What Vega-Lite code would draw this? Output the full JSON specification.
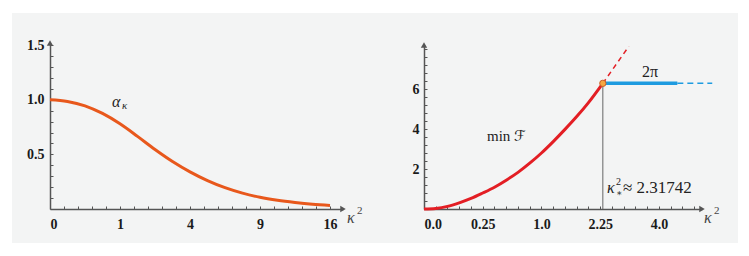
{
  "$schema": "https://vega.github.io/schema/vega-lite/v6.json",
  "background": "white",
  "padding": {"left": 12, "top": 13, "right": 11, "bottom": 13},
  "spacing": 0,
  "config": {
    "view": {"fill": "#f3f4f4", "stroke": null},
    "axis": {"grid": false, "domainColor": "#555555", "domainWidth": 1.5, "tickColor": "#555555", "tickWidth": 1, "tickSize": -3, "labelFont": "Liberation Serif", "labelFontWeight": "bold", "labelFontSize": 14, "labelColor": "#1a1a1a", "labelOverlap": false},
    "text": {"font": "Liberation Serif, DejaVu Serif, DejaVu Sans", "color": "#222222"}
  },
  "datasets": {
    "alpha": [
      {"k2": 0, "a": 1.0}, {"k2": 0.0625, "a": 0.985}, {"k2": 0.25, "a": 0.945}, {"k2": 0.5625, "a": 0.875},
      {"k2": 1, "a": 0.78}, {"k2": 1.5625, "a": 0.665}, {"k2": 2.25, "a": 0.545}, {"k2": 3.0625, "a": 0.435},
      {"k2": 4, "a": 0.34}, {"k2": 5.0625, "a": 0.26}, {"k2": 6.25, "a": 0.195}, {"k2": 7.5625, "a": 0.145},
      {"k2": 9, "a": 0.107}, {"k2": 10.5625, "a": 0.08}, {"k2": 12.25, "a": 0.06}, {"k2": 14.0625, "a": 0.044},
      {"k2": 16, "a": 0.033}
    ],
    "minF": [
      {"k2": 0, "F": 0}, {"k2": 0.01, "F": 0.03}, {"k2": 0.04, "F": 0.13}, {"k2": 0.09, "F": 0.31},
      {"k2": 0.16, "F": 0.53}, {"k2": 0.25, "F": 0.8}, {"k2": 0.36, "F": 1.09}, {"k2": 0.49, "F": 1.44},
      {"k2": 0.64, "F": 1.83}, {"k2": 0.81, "F": 2.29}, {"k2": 1.0, "F": 2.8}, {"k2": 1.21, "F": 3.37},
      {"k2": 1.44, "F": 3.98}, {"k2": 1.69, "F": 4.62}, {"k2": 1.96, "F": 5.32}, {"k2": 2.31742, "F": 6.28319}
    ],
    "minFext": [{"k2": 2.31742, "F": 6.28319}, {"k2": 3.04, "F": 8.13}],
    "twopi": [{"k2": 2.31742, "F": 6.28319}, {"k2": 4.65, "F": 6.28319}],
    "twopiext": [{"k2": 4.65, "F": 6.28319}, {"k2": 6.02, "F": 6.28319}],
    "crit": [{"k2": 2.31742, "F": 6.28319, "zero": 0}],
    "one": [{"n": 1}]
  },
  "hconcat": [
    {
      "width": 363,
      "height": 230,
      "layer": [
        {
          "data": {"name": "alpha"},
          "mark": {"type": "line", "color": "#e8581c", "strokeWidth": 3, "interpolate": "monotone"},
          "encoding": {
            "x": {"field": "k2", "type": "quantitative",
              "scale": {"type": "sqrt", "domain": [0, 17.52], "range": [38, 331], "nice": false, "zero": false},
              "axis": {"title": null, "orient": "bottom", "offset": -34, "labelPadding": 11, "labelOverlap": false, "tickCount": 200,
                "values": [0, 0.04, 0.16, 0.36, 0.64, 1, 1.44, 1.96, 2.56, 3.24, 4, 4.84, 5.76, 6.76, 7.84, 9, 10.24, 11.56, 12.96, 14.44, 16],
                "labelExpr": "(datum.value==0||datum.value==1||datum.value==4||datum.value==9||datum.value==16) ? format(datum.value,'d') : ''"}},
            "y": {"field": "a", "type": "quantitative",
              "scale": {"domain": [0, 1.52], "range": [196, 30], "nice": false, "zero": false},
              "axis": {"title": null, "orient": "left", "offset": -38, "labelPadding": 9, "labelOverlap": false, "tickCount": 200,
                "values": [0.1, 0.2, 0.3, 0.4, 0.5, 0.6, 0.7, 0.8, 0.9, 1, 1.1, 1.2, 1.3, 1.4, 1.5],
                "labelExpr": "(datum.value==0.5||datum.value==1||datum.value==1.5) ? format(datum.value,'.1f') : ''"}}
          }
        },
        {
          "data": {"name": "one"},
          "mark": {"type": "point", "shape": "triangle-right", "filled": true, "size": 40, "color": "#555555", "opacity": 1},
          "encoding": {"x": {"datum": 17.52, "type": "quantitative"}, "y": {"datum": 0, "type": "quantitative"}}
        },
        {
          "data": {"name": "one"},
          "mark": {"type": "point", "shape": "triangle-up", "filled": true, "size": 40, "color": "#555555", "opacity": 1},
          "encoding": {"x": {"datum": 0, "type": "quantitative"}, "y": {"datum": 1.52, "type": "quantitative"}}
        },
        {
          "data": {"name": "one"},
          "mark": {"type": "text", "text": "α", "fontSize": 16, "fontStyle": "italic", "align": "left", "baseline": "middle"},
          "encoding": {"x": {"datum": 0.785, "type": "quantitative"}, "y": {"datum": 0.98, "type": "quantitative"}}
        },
        {
          "data": {"name": "one"},
          "mark": {"type": "text", "text": "κ", "fontSize": 11, "fontStyle": "italic", "align": "left", "baseline": "middle", "dx": 10, "dy": 4},
          "encoding": {"x": {"datum": 0.785, "type": "quantitative"}, "y": {"datum": 0.98, "type": "quantitative"}}
        },
        {
          "data": {"name": "one"},
          "mark": {"type": "text", "text": "κ", "fontSize": 16, "fontStyle": "italic", "align": "left", "baseline": "middle", "color": "#444444"},
          "encoding": {"x": {"datum": 18.0, "type": "quantitative"}, "y": {"datum": -0.082, "type": "quantitative"}}
        },
        {
          "data": {"name": "one"},
          "mark": {"type": "text", "text": "2", "fontSize": 11, "align": "left", "baseline": "middle", "dx": 10, "dy": -7, "color": "#444444"},
          "encoding": {"x": {"datum": 18.0, "type": "quantitative"}, "y": {"datum": -0.082, "type": "quantitative"}}
        }
      ]
    },
    {
      "width": 363,
      "height": 230,
      "layer": [
        {
          "data": {"name": "minF"},
          "mark": {"type": "line", "color": "#e31e24", "strokeWidth": 3, "interpolate": "monotone"},
          "encoding": {
            "x": {"field": "k2", "type": "quantitative",
              "scale": {"type": "sqrt", "domain": [0, 5.6], "range": [49, 327], "nice": false, "zero": false},
              "axis": {"title": null, "orient": "bottom", "offset": -34, "labelPadding": 11, "labelOverlap": false, "tickCount": 200,
                "values": [0, 0.01, 0.04, 0.09, 0.16, 0.25, 0.36, 0.49, 0.64, 0.81, 1, 1.21, 1.44, 1.69, 1.96, 2.25, 2.56, 2.89, 3.24, 3.61, 4, 4.41, 4.84, 5.29],
                "labelExpr": "datum.value==0 ? '0.0' : datum.value==0.25 ? '0.25' : datum.value==1 ? '1.0' : datum.value==2.25 ? '2.25' : datum.value==4 ? '4.0' : ''"}},
            "y": {"field": "F", "type": "quantitative",
              "scale": {"domain": [0, 8.2], "range": [196, 32], "nice": false, "zero": false},
              "axis": {"title": null, "orient": "left", "offset": -49, "labelPadding": 8, "labelOverlap": false, "tickCount": 200,
                "values": [0.4, 0.8, 1.2, 1.6, 2, 2.4, 2.8, 3.2, 3.6, 4, 4.4, 4.8, 5.2, 5.6, 6, 6.4, 6.8, 7.2, 7.6, 8],
                "labelExpr": "(datum.value==2||datum.value==4||datum.value==6) ? format(datum.value,'d') : ''"}}
          }
        },
        {
          "data": {"name": "minFext"},
          "mark": {"type": "line", "color": "#e31e24", "strokeWidth": 1.5, "strokeDash": [5, 4]},
          "encoding": {"x": {"field": "k2", "type": "quantitative"}, "y": {"field": "F", "type": "quantitative"}}
        },
        {
          "data": {"name": "twopi"},
          "mark": {"type": "line", "color": "#1e9be0", "strokeWidth": 3.5},
          "encoding": {"x": {"field": "k2", "type": "quantitative"}, "y": {"field": "F", "type": "quantitative"}}
        },
        {
          "data": {"name": "twopiext"},
          "mark": {"type": "line", "color": "#1e9be0", "strokeWidth": 1.5, "strokeDash": [6, 4]},
          "encoding": {"x": {"field": "k2", "type": "quantitative"}, "y": {"field": "F", "type": "quantitative"}}
        },
        {
          "data": {"name": "crit"},
          "mark": {"type": "rule", "color": "#666666", "strokeWidth": 1},
          "encoding": {"x": {"field": "k2", "type": "quantitative"}, "y": {"field": "zero", "type": "quantitative"}, "y2": {"field": "F"}}
        },
        {
          "data": {"name": "crit"},
          "mark": {"type": "point", "filled": true, "size": 40, "color": "#f5a742", "stroke": "#c8602a", "strokeWidth": 1, "opacity": 1},
          "encoding": {"x": {"field": "k2", "type": "quantitative"}, "y": {"field": "F", "type": "quantitative"}}
        },
        {
          "data": {"name": "one"},
          "mark": {"type": "point", "shape": "triangle-right", "filled": true, "size": 40, "color": "#555555", "opacity": 1},
          "encoding": {"x": {"datum": 5.6, "type": "quantitative"}, "y": {"datum": 0, "type": "quantitative"}}
        },
        {
          "data": {"name": "one"},
          "mark": {"type": "point", "shape": "triangle-up", "filled": true, "size": 40, "color": "#555555", "opacity": 1},
          "encoding": {"x": {"datum": 0, "type": "quantitative"}, "y": {"datum": 8.2, "type": "quantitative"}}
        },
        {
          "data": {"name": "one"},
          "mark": {"type": "text", "text": "min ℱ", "fontSize": 15, "align": "left", "baseline": "middle"},
          "encoding": {"x": {"datum": 0.2876, "type": "quantitative"}, "y": {"datum": 3.65, "type": "quantitative"}}
        },
        {
          "data": {"name": "one"},
          "mark": {"type": "text", "text": "2π", "fontSize": 16, "align": "center", "baseline": "middle"},
          "encoding": {"x": {"datum": 3.7, "type": "quantitative"}, "y": {"datum": 6.85, "type": "quantitative"}}
        },
        {
          "data": {"name": "one"},
          "mark": {"type": "text", "text": "κ", "fontSize": 16, "fontStyle": "italic", "align": "left", "baseline": "middle"},
          "encoding": {"x": {"datum": 2.427, "type": "quantitative"}, "y": {"datum": 1.05, "type": "quantitative"}}
        },
        {
          "data": {"name": "one"},
          "mark": {"type": "text", "text": "2", "fontSize": 10, "align": "left", "baseline": "middle", "dx": 9, "dy": -6},
          "encoding": {"x": {"datum": 2.427, "type": "quantitative"}, "y": {"datum": 1.05, "type": "quantitative"}}
        },
        {
          "data": {"name": "one"},
          "mark": {"type": "text", "text": "∗", "fontSize": 9, "align": "left", "baseline": "middle", "dx": 9, "dy": 5},
          "encoding": {"x": {"datum": 2.427, "type": "quantitative"}, "y": {"datum": 1.05, "type": "quantitative"}}
        },
        {
          "data": {"name": "one"},
          "mark": {"type": "text", "text": "≈ 2.31742", "fontSize": 17, "align": "left", "baseline": "middle", "dx": 16},
          "encoding": {"x": {"datum": 2.427, "type": "quantitative"}, "y": {"datum": 1.05, "type": "quantitative"}}
        },
        {
          "data": {"name": "one"},
          "mark": {"type": "text", "text": "κ", "fontSize": 16, "fontStyle": "italic", "align": "left", "baseline": "middle", "color": "#444444"},
          "encoding": {"x": {"datum": 5.68, "type": "quantitative"}, "y": {"datum": -0.45, "type": "quantitative"}}
        },
        {
          "data": {"name": "one"},
          "mark": {"type": "text", "text": "2", "fontSize": 11, "align": "left", "baseline": "middle", "dx": 10, "dy": -7, "color": "#444444"},
          "encoding": {"x": {"datum": 5.68, "type": "quantitative"}, "y": {"datum": -0.45, "type": "quantitative"}}
        }
      ]
    }
  ]
}
